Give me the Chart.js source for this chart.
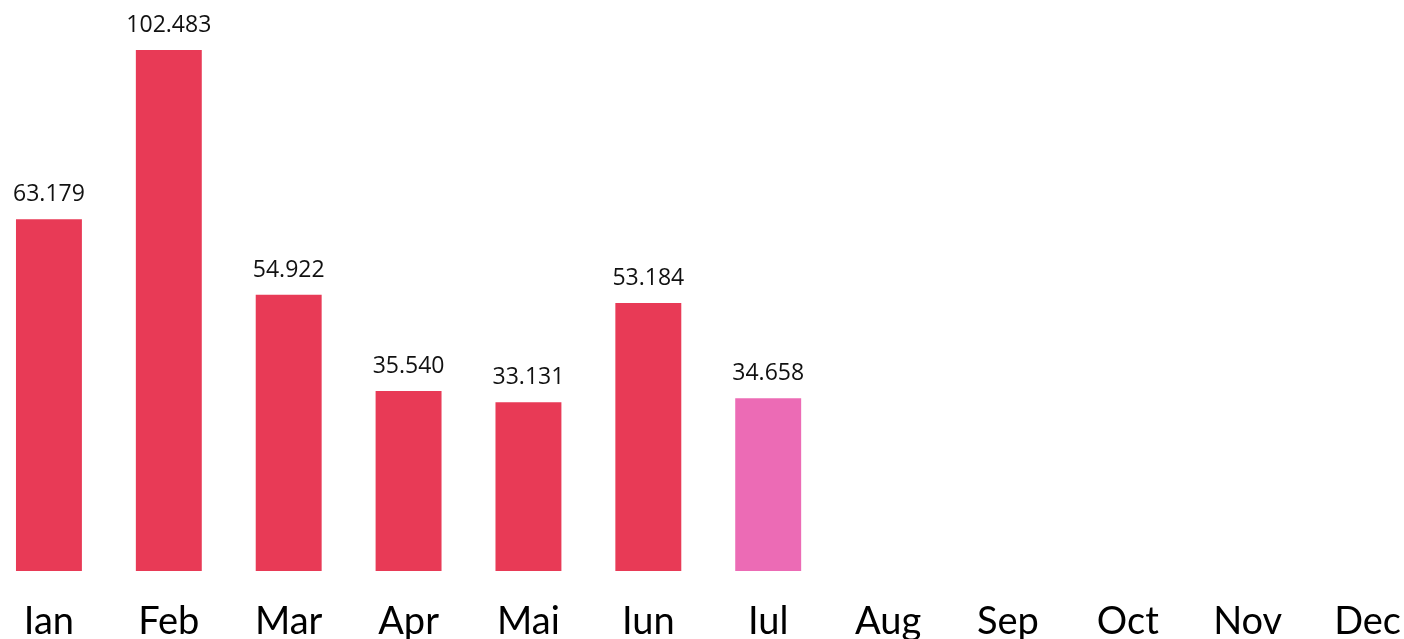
<!DOCTYPE html>
<html>
<head>
<meta charset="utf-8">
<script src="https://cdn.jsdelivr.net/npm/chart.js@4"></script>
<style>
  html, body { margin: 0; padding: 0; background: #fff; overflow: hidden; }
  #wrap { position: absolute; left: -11px; top: 0; width: 1440px; height: 639px; }
</style>
</head>
<body>
<div id="wrap"><canvas id="monthChart" width="1440" height="639"></canvas></div>
<script>
// luni
let months = ['Ian', 'Feb', 'Mar', 'Apr', 'Mai', 'Iun', 'Iul', 'Aug', 'Sep', 'Oct', 'Nov', 'Dec'];
// inaltimea barelor
let barValues = [69.8, 103.4, 54.8, 35.7, 33.5, 53.2, 34.3];
// textul afisat deasupra barelor
let valueLabels = ['63.179', '102.483', '54.922', '35.540', '33.131', '53.184', '34.658'];
let barColors = ['#E83A56', '#E83A56', '#E83A56', '#E83A56', '#E83A56', '#E83A56', '#EC6BB5'];

// scrie valorile deasupra barelor
const valueLabelPlugin = {
    id: 'valueLabelPlugin',
    afterDatasetsDraw(chart) {
        let ctx = chart.ctx;
        let meta = chart.getDatasetMeta(0);
        ctx.save();
        ctx.font = '23px "Open Sans"';
        ctx.fillStyle = '#111';
        ctx.textAlign = 'center';
        ctx.textBaseline = 'alphabetic';
        meta.data.forEach(function(bar, i) {
            ctx.fillText(valueLabels[i], bar.x, bar.y - 18);
        });
        ctx.restore();
    }
};

let chart = new Chart(document.getElementById('monthChart').getContext('2d'), {
    type: 'bar',
    data: {
        labels: months,
        datasets: [{
            data: barValues,
            backgroundColor: barColors,
            barPercentage: 0.55,
            categoryPercentage: 1
        }]
    },
    options: {
        responsive: false,
        animation: false,
        layout: { padding: 0 },
        plugins: {
            legend: { display: false },
            tooltip: { enabled: false }
        },
        scales: {
            x: {
                grid: { display: false, drawTicks: false },
                border: { display: false },
                ticks: {
                    color: '#000',
                    padding: 28,
                    font: { family: 'Lato', size: 38 }
                },
                afterFit: function(scale) { scale.height = 68; }
            },
            y: {
                display: false,
                min: 0,
                max: 113.3
            }
        }
    },
    plugins: [valueLabelPlugin]
});
</script>
</body>
</html>
